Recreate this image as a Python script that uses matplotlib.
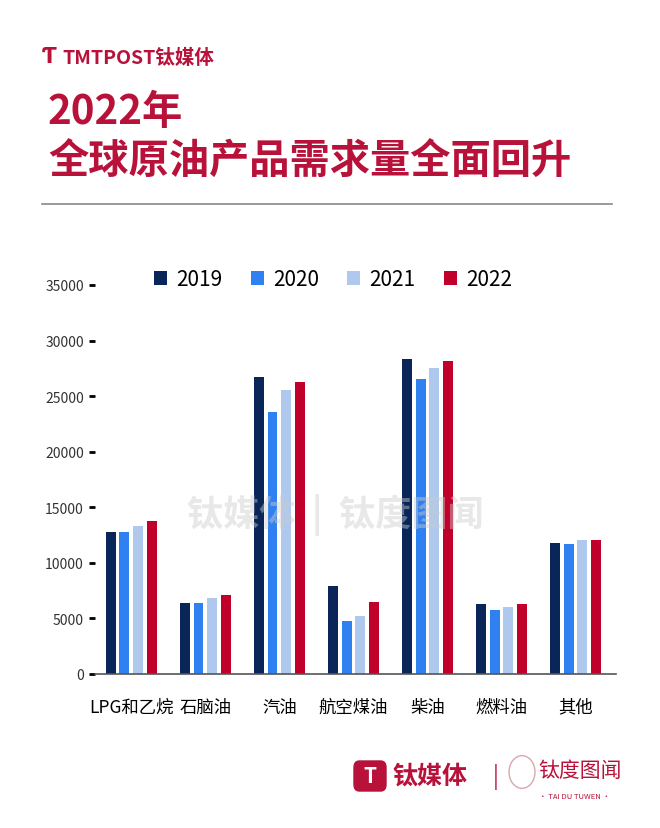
import numpy as np
import matplotlib.pyplot as plt
from matplotlib.patches import FancyBboxPatch, Circle
from matplotlib.lines import Line2D

plt.rcParams['font.family'] = ['Noto Sans CJK SC', 'DejaVu Sans']

# Data
categories = ["LPG和乙烷", "石脑油", "汽油", "航空煤油", "柴油", "燃料油", "其他"]
years = ["2019", "2020", "2021", "2022"]
v2019 = [12750, 6360, 26700, 7950, 28340, 6270, 11790]
v2020 = [12750, 6360, 23550, 4740, 26510, 5730, 11670]
v2021 = [13350, 6870, 25550, 5250, 27560, 6060, 12030]
v2022 = [13750, 7080, 26300, 6450, 28190, 6270, 12030]
series = [v2019, v2020, v2021, v2022]
colors = ["#0a2558", "#2f80f0", "#aec8ee", "#c0002a"]

red = "#b8123a"

fig = plt.figure(figsize=(6.6, 8.29), dpi=100)
W, H = 660, 829

def fx(px):
    return px / W

def fy(py):
    return 1 - py / H

# Header
fig.text(fx(42), fy(57), "Ƭ", color=red, fontsize=15, fontweight="bold",
         va="center", ha="left", family="DejaVu Sans")
fig.text(fx(62), fy(58), "TMTPOST钛媒体", color=red, fontsize=14, fontweight="bold",
         va="center", ha="left")
fig.text(fx(48), fy(112), "2022年", color=red, fontsize=29, fontweight="bold",
         va="center", ha="left")
fig.text(fx(48), fy(162), "全球原油产品需求量全面回升", color=red, fontsize=29,
         fontweight="bold", va="center", ha="left")
fig.add_artist(Line2D([fx(42), fx(612)], [fy(205), fy(205)], color="#888888", lw=1.2))

# Chart
ax = fig.add_axes([fx(95), fy(675), fx(616) - fx(95), (675 - 286) / H])
x = np.arange(len(categories))
bw = 0.135
step = 0.183
for i, (vals, c, yr) in enumerate(zip(series, colors, years)):
    ax.bar(x + (i - 1.5) * step, vals, width=bw, color=c, label=yr, zorder=2)

ax.set_xlim(-0.49, 6.55)
ax.set_ylim(0, 35000)
ax.set_yticks(np.arange(0, 35001, 5000))
ax.set_yticklabels([str(v) for v in range(0, 35001, 5000)])
ax.set_xticks(x)
ax.set_xticklabels(categories)
for s in ["left", "top", "right"]:
    ax.spines[s].set_visible(False)
ax.spines["bottom"].set_color("#555555")
ax.spines["bottom"].set_linewidth(1.2)
ax.tick_params(axis="y", direction="out", length=4, width=2, color="black",
               labelsize=10, labelcolor="#333333", pad=4)
ax.tick_params(axis="x", length=0, labelsize=12.5, labelcolor="black", pad=17)

leg = ax.legend(loc="center", bbox_to_anchor=(0.457, 1.015), ncol=4, frameon=False,
                fontsize=15, handlelength=0.62, handleheight=0.62, handletextpad=0.45,
                columnspacing=1.35, borderaxespad=0)

# Watermark
fig.text(fx(335), fy(515), "钛媒体  |  钛度图闻", color="#cccccc", fontsize=26,
         fontweight="bold", ha="center", va="center", alpha=0.45, zorder=0)

# Footer logo
fig.add_artist(FancyBboxPatch((fx(354), fy(792)), fx(32), 30 / H,
                              boxstyle="round,pad=0,rounding_size=0.008",
                              color=red, transform=fig.transFigure))
fig.text(fx(370), fy(777), "T", color="white", fontsize=15, fontweight="bold",
         ha="center", va="center")
fig.text(fx(392), fy(777), "钛媒体", color=red, fontsize=18, fontweight="bold",
         ha="left", va="center")
fig.text(fx(496), fy(777), "|", color=red, fontsize=16, ha="center", va="center")
fig.add_artist(Circle((fx(522), fy(773)), 13 / W, fill=False, ec="#d9a7b0", lw=1,
                      transform=fig.transFigure))
fig.text(fx(538), fy(771), "钛度图闻", color=red, fontsize=15, ha="left", va="center")
fig.text(fx(575), fy(797), "• TAI DU TUWEN •", color=red, fontsize=5.5,
         ha="center", va="center")

fig.savefig("out.png", dpi=100, facecolor="white")
